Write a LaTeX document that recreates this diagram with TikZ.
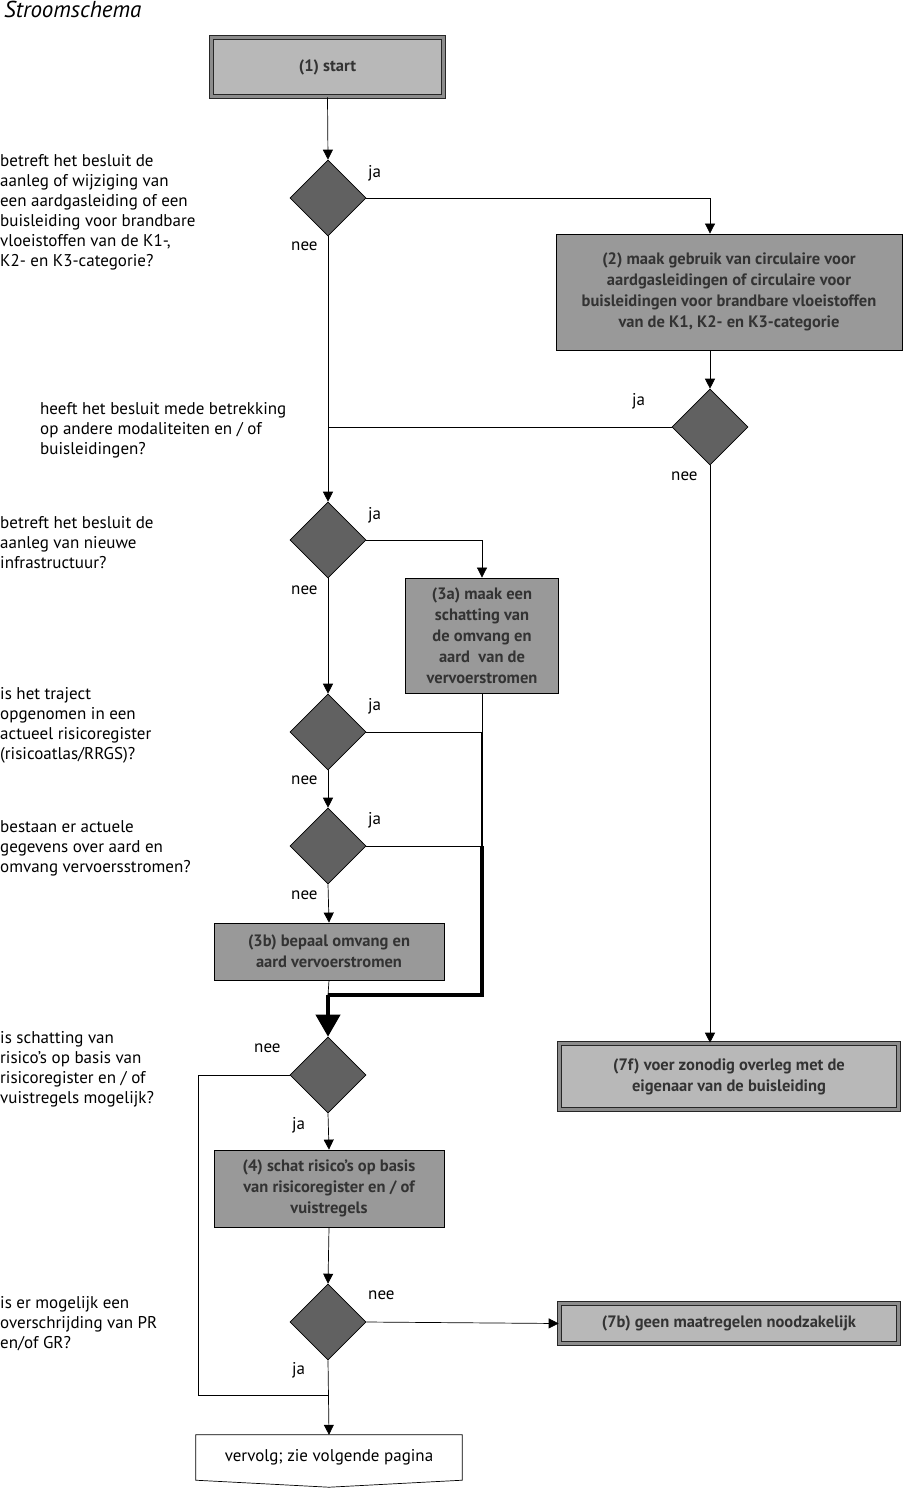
\documentclass[tikz,border=0pt]{standalone}
\usepackage{fontspec}
\setmainfont{PT Sans}
\usetikzlibrary{shapes.geometric,arrows.meta,calc}
\begin{document}
\begin{tikzpicture}[x=1pt,y=-1pt,
  txt/.style={font=\fontsize{17}{20}\selectfont},
  btxt/.style={font=\fontsize{16.5}{21}\selectfont\bfseries},
  dia/.style={diamond, draw=black, line width=0.6pt, fill=black!62, minimum width=76pt, minimum height=76pt, inner sep=0pt},
  proc/.style={rectangle, draw=black, line width=0.8pt, fill=black!40, align=center, btxt, text=black!80, inner sep=1pt},
  term/.style={proc, draw=black!85, double=black!45, double distance=2.5pt, line width=1.6pt, fill=black!28},
  ln/.style={line width=0.7pt},
  arr/.style={ln, -{Triangle[width=10pt,length=10pt]}},
  lbl/.style={txt, align=left, anchor=base west, inner sep=0pt},
  yn/.style={txt, anchor=base west, inner sep=0pt}
]
\useasboundingbox (0,0) rectangle (905,1494);

% title
\node[anchor=base west, inner sep=0pt, font=\fontsize{23}{26}\selectfont\itshape] (title) at (4,17) {Stroomschema};

% boxes
\node[term, minimum width=232pt, minimum height=59pt] (start) at (327.5,67) {(1) start};
\node[dia] (d1) at (328,198) {};
\node[proc, minimum width=346pt, minimum height=116pt] (b2) at (729,292)
  {(2) maak gebruik van circulaire voor\\aardgasleidingen of circulaire voor\\buisleidingen voor brandbare vloeistoffen\\van de K1, K2- en K3-categorie};
\node[dia] (d2) at (710,427) {};
\node[dia] (d3) at (328,540) {};
\node[proc, minimum width=153pt, minimum height=115pt] (b3a) at (482,635.5)
  {(3a) maak een\\schatting van\\de omvang en\\aard\ \ van de\\vervoerstromen};
\node[dia] (d4) at (328,732) {};
\node[dia] (d5) at (328,846) {};
\node[proc, minimum width=230pt, minimum height=57pt] (b3b) at (329,951.5)
  {(3b) bepaal omvang en\\aard vervoerstromen};
\node[dia] (d6) at (328,1075) {};
\node[proc, minimum width=230pt, minimum height=77pt] (b4) at (329,1188.5)
  {(4) schat risico's op basis\\van risicoregister en / of\\vuistregels};
\node[dia] (d7) at (328,1322) {};
\node[term, minimum width=339pt, minimum height=66pt] (b7f) at (729,1076.5)
  {(7f) voer zonodig overleg met de\\eigenaar van de buisleiding};
\node[term, minimum width=339pt, minimum height=40pt] (b7b) at (729,1323.5)
  {(7b) geen maatregelen noodzakelijk};
\node[txt, minimum width=266pt, minimum height=45pt, inner sep=0pt] (vv) at (329,1457.5) {};
\draw[ln, fill=white] (vv.north west) -- (vv.north east) -- (vv.south east) -- ($(vv.south)+(0,7)$) -- (vv.south west) -- cycle;
\node[txt, inner sep=0pt] (vvt) at (vv.center) {vervolg; zie volgende pagina};

% coordinates
\coordinate (j1) at (d2.west -| d1.south);
\coordinate (jm) at (328,995);
\coordinate (jr) at (b3a.south |- jm);
\coordinate (k4) at (d4.east -| b3a.south);
\coordinate (k5) at (d5.east -| b3a.south);
\coordinate (lc) at (198,1395);
\coordinate (jb) at (328,1395);

% connectors
\draw[arr] (start.south) -- (d1.north);
\draw[arr] (d1.east) -| ($(b2.north)+(-19,0)$);
\draw[arr] (b2.south -| d2.north) -- (d2.north);
\draw[ln] (d2.west) -- (j1);
\draw[arr] (d1.south) -- (d3.north);
\draw[arr] (d2.south) -- (b7f.north -| d2.south);
\draw[arr] (d3.east) -| (b3a.north);
\draw[arr] (d3.south) -- (d4.north);
\draw[arr] (d4.south) -- (d5.north);
\draw[arr] (d5.south) -- (b3b.north);
\draw[ln] (d4.east) -- (k4);
\draw[ln] (d5.east) -- (k5);
\draw[ln] (b3a.south) -- (k4);
\draw[line width=2.4pt] (k4) -- (k5);
\draw[line width=4pt, line join=miter] (k5) -- (jr) -- (jm);
\draw[ln] (b3b.south) -- (jm);
\draw[line width=4pt, -{Triangle[width=24pt,length=22pt]}] (jm) -- (d6.north);
\draw[ln] (d6.west) -| (lc) -- (jb);
\draw[arr] (d6.south) -- (b4.north);
\draw[arr] (b4.south) -- (d7.north);
\draw[arr] (d7.east) -- (b7b.west);
\draw[arr] (d7.south) -- (vv.north);

% ja / nee
\node[yn] (y1) at (368,177) {ja};
\node[yn] (n1) at (291,250) {nee};
\node[yn] (y2) at (632,405) {ja};
\node[yn] (n2) at (671,480) {nee};
\node[yn] (y3) at (368,519) {ja};
\node[yn] (n3) at (291,594) {nee};
\node[yn] (y4) at (368,710) {ja};
\node[yn] (n4) at (291,784) {nee};
\node[yn] (y5) at (368,824) {ja};
\node[yn] (n5) at (291,899) {nee};
\node[yn] (n6) at (254,1052) {nee};
\node[yn] (y6) at (292,1129) {ja};
\node[yn] (n7) at (368,1299) {nee};
\node[yn] (y7) at (292,1374) {ja};

% questions (base = last line)
\node[lbl] (q1) at (0,266) {betreft het besluit de\\aanleg of wijziging van\\een aardgasleiding of een\\buisleiding voor brandbare\\vloeistoffen van de K1-,\\K2- en K3-categorie?};
\node[lbl] (q2) at (40,454) {heeft het besluit mede betrekking\\op andere modaliteiten en / of\\buisleidingen?};
\node[lbl] (q3) at (0,568) {betreft het besluit de\\aanleg van nieuwe\\infrastructuur?};
\node[lbl] (q4) at (0,759) {is het traject\\opgenomen in een\\actueel risicoregister\\(risicoatlas/RRGS)?};
\node[lbl] (q5) at (0,872) {bestaan er actuele\\gegevens over aard en\\omvang vervoersstromen?};
\node[lbl] (q6) at (0,1103) {is schatting van\\risico's op basis van\\risicoregister en / of\\vuistregels mogelijk?};
\node[lbl] (q7) at (0,1348) {is er mogelijk een\\overschrijding van PR\\en/of GR?};
\end{tikzpicture}
\end{document}
